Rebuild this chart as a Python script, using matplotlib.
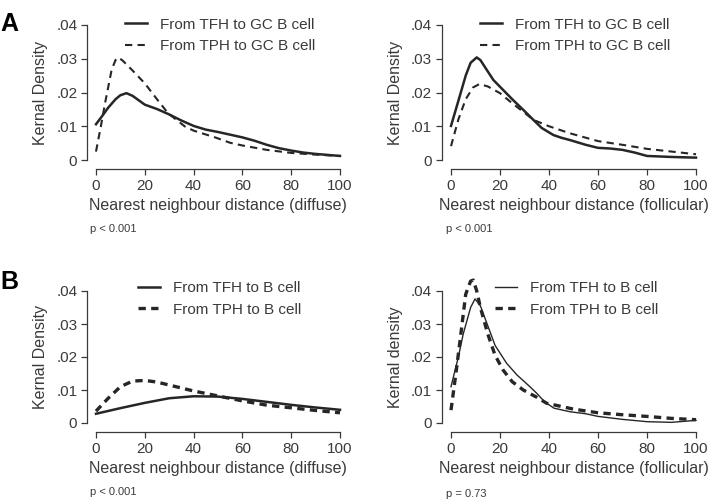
import matplotlib
matplotlib.use("Agg")
import matplotlib.pyplot as plt

plt.rcParams['font.family'] = ['Liberation Sans', 'DejaVu Sans']

TXT = '#3a3a3a'
LN = '#262626'

# ---- data ----
# A left: diffuse, GC B cell
a1_tfh_x = [0, 2.5, 5, 8, 10, 12.5, 15, 20, 25, 30, 35, 40, 45, 50, 55, 60, 65, 70, 75, 80, 85, 90, 95, 100]
a1_tfh_y = [0.0106, 0.0130, 0.0155, 0.0180, 0.0192, 0.0198, 0.0190, 0.0164, 0.0151, 0.0135, 0.0117, 0.0101, 0.0090, 0.0083, 0.0075, 0.0067, 0.0057, 0.0045, 0.0035, 0.0028, 0.0022, 0.0018, 0.0015, 0.0012]
a1_tph_x = [0, 2, 3.7, 6.4, 8, 9.2, 11, 15, 20, 25, 29.6, 36.5, 40, 48.8, 55, 60, 70, 80, 90, 100]
a1_tph_y = [0.0025, 0.0100, 0.0168, 0.0267, 0.0296, 0.0304, 0.0294, 0.0265, 0.0227, 0.0180, 0.0138, 0.0099, 0.0087, 0.0067, 0.0051, 0.0043, 0.0030, 0.0021, 0.0016, 0.0012]

# A right: follicular, GC B cell
a2_tfh_x = [0, 3, 6, 8, 10.5, 12, 14.6, 17.3, 20, 25, 30, 33.6, 37, 41.8, 45, 48.6, 55, 60, 65, 70, 75, 80, 90, 100]
a2_tfh_y = [0.0101, 0.0175, 0.0250, 0.0288, 0.0304, 0.0296, 0.0267, 0.0237, 0.0217, 0.0180, 0.0145, 0.0119, 0.0095, 0.0074, 0.0066, 0.0059, 0.0045, 0.0036, 0.0034, 0.0030, 0.0022, 0.0012, 0.0009, 0.0007]
a2_tph_x = [0, 3, 6, 9, 11.6, 15, 20, 25, 30, 33.6, 40, 48.6, 60, 70, 80, 90, 100]
a2_tph_y = [0.0041, 0.0120, 0.0180, 0.0215, 0.0225, 0.0218, 0.0198, 0.0168, 0.0140, 0.0119, 0.0100, 0.0079, 0.0056, 0.0045, 0.0033, 0.0025, 0.0017]

# B left: diffuse, B cell
b1_tfh_x = [0, 10, 20, 30, 40, 50, 60, 70, 80, 90, 100]
b1_tfh_y = [0.0028, 0.0045, 0.0061, 0.0075, 0.0081, 0.0080, 0.0073, 0.0064, 0.0055, 0.0047, 0.0040]
b1_tph_x = [0, 5, 10, 15, 20, 25, 30, 40, 50, 60, 70, 80, 90, 100]
b1_tph_y = [0.0036, 0.0075, 0.0110, 0.0127, 0.0129, 0.0124, 0.0115, 0.0097, 0.0082, 0.0067, 0.0054, 0.0046, 0.0038, 0.0031]

# B right: follicular, B cell
b2_tfh_x = [0, 3, 5, 8, 9.8, 12, 15, 18, 22.7, 27, 30, 32.2, 35, 38.1, 42, 48.6, 55, 60, 70, 80, 90, 100]
b2_tfh_y = [0.0110, 0.0200, 0.0270, 0.0350, 0.0376, 0.0355, 0.0295, 0.0235, 0.0181, 0.0145, 0.0125, 0.0110, 0.0090, 0.0065, 0.0045, 0.0034, 0.0028, 0.0020, 0.0011, 0.0004, 0.0002, 0.0008]
b2_tph_x = [0, 2, 3.7, 6, 8, 9.1, 10.5, 12, 15, 18, 21.3, 25, 29.5, 35, 39, 50, 60, 70, 80, 90, 100]
b2_tph_y = [0.0039, 0.0150, 0.0250, 0.0390, 0.0430, 0.0433, 0.0400, 0.0350, 0.0270, 0.0205, 0.0160, 0.0125, 0.0100, 0.0078, 0.0060, 0.0042, 0.0031, 0.0025, 0.0020, 0.0014, 0.0010]

xticks = [0, 20, 40, 60, 80, 100]
yticks = [0, 0.01, 0.02, 0.03, 0.04]
ytick_labels = ['0', '.01', '.02', '.03', '.04']

W, H = 712, 500
fig = plt.figure(figsize=(7.12, 5.0), dpi=100)


def px_axes(x0, x1, ytop, ybot):
    return fig.add_axes([x0 / W, 1 - ybot / H, (x1 - x0) / W, (ybot - ytop) / H])


def style(ax, xlabel, ylabel):
    ax.set_xlim(0, 100)
    ax.set_ylim(0, 0.04)
    for s in ['top', 'right']:
        ax.spines[s].set_visible(False)
    for s in ['left', 'bottom']:
        ax.spines[s].set_position(('outward', 6.5))
        ax.spines[s].set_color(TXT)
        ax.spines[s].set_linewidth(0.9)
    ax.set_xticks(xticks)
    ax.set_yticks(yticks)
    ax.set_yticklabels(ytick_labels)
    ax.tick_params(colors=TXT, labelsize=11, length=4, width=0.9, pad=3)
    ax.set_xlabel(xlabel, fontsize=11.5, color=TXT, labelpad=4)
    ax.set_ylabel(ylabel, fontsize=11.5, color=TXT, labelpad=6)
    ax.patch.set_alpha(0)


def legend(ax, xa, ya):
    leg = ax.legend(loc='upper left', bbox_to_anchor=(xa, ya), frameon=False,
                    fontsize=11, handlelength=1.45, handletextpad=0.85,
                    labelspacing=0.5, borderpad=0, borderaxespad=0)
    for t in leg.get_texts():
        t.set_color(TXT)


# A left
ax = px_axes(96, 340, 25, 160)
ax.plot(a1_tfh_x, a1_tfh_y, color=LN, lw=1.8, ls='-', label='From TFH to GC B cell', clip_on=False)
ax.plot(a1_tph_x, a1_tph_y, color=LN, lw=1.5, ls=(0, (3.5, 2.5)), label='From TPH to GC B cell', clip_on=False)
style(ax, 'Nearest neighbour distance (diffuse)', 'Kernal Density')
legend(ax, 0.119, 1.055)

# A right
ax = px_axes(451, 696, 25, 160)
ax.plot(a2_tfh_x, a2_tfh_y, color=LN, lw=1.8, ls='-', label='From TFH to GC B cell', clip_on=False)
ax.plot(a2_tph_x, a2_tph_y, color=LN, lw=1.5, ls=(0, (3.5, 2.5)), label='From TPH to GC B cell', clip_on=False)
style(ax, 'Nearest neighbour distance (follicular)', 'Kernal Density')
legend(ax, 0.118, 1.055)

# B left
ax = px_axes(96, 340, 291, 423)
ax.plot(b1_tfh_x, b1_tfh_y, color=LN, lw=1.8, ls='-', label='From TFH to B cell', clip_on=False)
ax.plot(b1_tph_x, b1_tph_y, color=LN, lw=2.4, ls=(0, (2.2, 1.6)), label='From TPH to B cell', clip_on=False)
style(ax, 'Nearest neighbour distance (diffuse)', 'Kernal Density')
legend(ax, 0.172, 1.075)

# B right
ax = px_axes(451, 696, 291, 423)
ax.plot(b2_tfh_x, b2_tfh_y, color=LN, lw=1.0, ls='-', label='From TFH to B cell', clip_on=False)
ax.plot(b2_tph_x, b2_tph_y, color=LN, lw=2.4, ls=(0, (2.2, 1.6)), label='From TPH to B cell', clip_on=False)
style(ax, 'Nearest neighbour distance (follicular)', 'Kernal density')
legend(ax, 0.18, 1.075)

# p values and panel letters
fig.text(90 / W, 1 - 229 / H, 'p < 0.001', fontsize=8, color=TXT, va='center')
fig.text(446 / W, 1 - 229 / H, 'p < 0.001', fontsize=8, color=TXT, va='center')
fig.text(90 / W, 1 - 492 / H, 'p < 0.001', fontsize=8, color=TXT, va='center')
fig.text(446 / W, 1 - 494 / H, 'p = 0.73', fontsize=8, color=TXT, va='center')
fig.text(0 / W, 1 - 24 / H, 'A', fontsize=18, fontweight='bold', color='black', va='center')
fig.text(0 / W, 1 - 282 / H, 'B', fontsize=18, fontweight='bold', color='black', va='center')

fig.savefig('out.png', dpi=100)
